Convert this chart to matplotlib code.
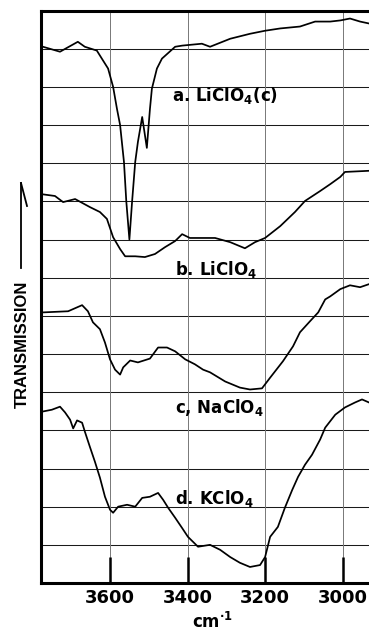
import matplotlib
matplotlib.use("Agg")
import matplotlib.pyplot as plt

# ---- data (wavenumber in cm^-1, transmission in chart-grid units) ----
wn_a = [3778, 3773, 3729, 3683, 3665, 3634, 3618, 3605, 3592, 3582, 3574, 3564, 3558, 3550,
        3543, 3535, 3528, 3517, 3505, 3497, 3492, 3479, 3466, 3432, 3414, 3363, 3342, 3290,
        3239, 3200, 3161, 3110, 3071, 3032, 3006, 2981, 2955, 2932]
tr_a = [14.05, 14.05, 13.92, 14.18, 14.05, 13.95, 13.69, 13.48, 13.0, 12.42, 12.0, 11.03, 10.0, 9.0,
        10.0, 11.03, 11.56, 12.21, 11.4, 12.42, 12.95, 13.48, 13.74, 14.05, 14.08, 14.13, 14.05, 14.26,
        14.39, 14.47, 14.53, 14.58, 14.71, 14.71, 14.74, 14.79, 14.71, 14.66]

wn_b = [3778, 3742, 3721, 3690, 3652, 3626, 3608, 3592, 3574, 3561, 3535, 3510, 3484, 3458,
        3432, 3414, 3394, 3329, 3290, 3252, 3226, 3200, 3161, 3123, 3097, 3058, 3032, 3006,
        2994, 2932]
tr_b = [10.19, 10.14, 9.98, 10.06, 9.85, 9.72, 9.54, 9.06, 8.75, 8.56, 8.56, 8.54, 8.62, 8.80,
        8.96, 9.14, 9.04, 9.04, 8.93, 8.77, 8.93, 9.04, 9.35, 9.72, 10.01, 10.27, 10.45, 10.64,
        10.77, 10.80]

wn_c = [3778, 3773, 3708, 3672, 3657, 3644, 3626, 3613, 3600, 3587, 3574, 3566, 3548, 3528,
        3497, 3476, 3453, 3432, 3406, 3381, 3360, 3342, 3303, 3265, 3239, 3208, 3187, 3154,
        3128, 3110, 3084, 3063, 3045, 3032, 3006, 2981, 2955, 2932]
tr_c = [7.09, 7.09, 7.12, 7.28, 7.12, 6.83, 6.65, 6.30, 5.86, 5.59, 5.46, 5.65, 5.83, 5.78,
        5.88, 6.17, 6.17, 6.07, 5.86, 5.73, 5.59, 5.52, 5.28, 5.12, 5.07, 5.10, 5.38, 5.81,
        6.20, 6.57, 6.86, 7.09, 7.43, 7.51, 7.70, 7.80, 7.75, 7.83]

wn_d = [3778, 3775, 3750, 3729, 3716, 3703, 3695, 3685, 3672, 3665, 3652, 3639, 3626, 3613,
        3600, 3592, 3579, 3556, 3535, 3517, 3497, 3476, 3463, 3450, 3432, 3414, 3399, 3373,
        3342, 3316, 3290, 3265, 3239, 3213, 3200, 3187, 3167, 3149, 3130, 3115, 3097, 3079,
        3058, 3045, 3019, 2994, 2968, 2950, 2932]
tr_d = [4.49, 4.49, 4.54, 4.62, 4.47, 4.28, 4.05, 4.26, 4.20, 3.97, 3.57, 3.18, 2.76, 2.26,
        1.92, 1.84, 2.00, 2.05, 2.00, 2.23, 2.26, 2.36, 2.18, 1.97, 1.71, 1.44, 1.21, 0.95,
        1.00, 0.87, 0.68, 0.53, 0.42, 0.47, 0.68, 1.21, 1.47, 1.97, 2.44, 2.78, 3.10, 3.36,
        3.76, 4.07, 4.41, 4.60, 4.73, 4.81, 4.73]

labels = [r"a. LiClO$_\mathbf{4}$(c)", r"b. LiClO$_\mathbf{4}$",
          r"c, NaClO$_\mathbf{4}$", r"d. KClO$_\mathbf{4}$"]
label_x = [3440, 3432, 3432, 3432]
label_y = [12.77, 8.22, 4.60, 2.21]

xticks = [3600, 3400, 3200, 3000]
xtick_labels = ["3600", "3400", "3200", "3000"]

# ---- figure ----
fig = plt.figure(figsize=(3.69, 6.33), dpi=100)
ax = fig.add_axes([41 / 369, 50 / 633, 1 - 41 / 369, 572.5 / 633])

ax.set_xlim(3778, 2932)
ax.set_ylim(0, 15)

# grid
for yv in range(1, 15):
    ax.axhline(yv, color="#1a1a1a", lw=0.75, zorder=1)
for xv in xticks:
    ax.axvline(xv, color="#777777", lw=0.7, zorder=1)

for wn, tr in [(wn_a, tr_a), (wn_b, tr_b), (wn_c, tr_c), (wn_d, tr_d)]:
    ax.plot(wn, tr, color="black", lw=1.25, zorder=3)

for txt, lx, ly in zip(labels, label_x, label_y):
    ax.text(lx, ly, txt, fontsize=12, fontweight="bold", ha="left", va="center",
            zorder=4)

ax.set_xticks(xticks)
ax.set_xticklabels(xtick_labels, fontsize=13, fontweight="bold")
ax.tick_params(axis="x", direction="in", length=19, width=1.8, pad=4)
ax.set_yticks([])

for side in ["left", "top", "bottom"]:
    ax.spines[side].set_linewidth(2.2)
ax.spines["right"].set_visible(False)

fig.text(213 / 369, 1 - 622 / 633, r"cm$^{\mathbf{\cdot 1}}$", fontsize=12,
         fontweight="bold", ha="center", va="center")

fig.text(22 / 369, 1 - 344 / 633, "TRANSMISSION", rotation=90, fontsize=12,
         fontweight="bold", ha="center", va="center", family="Liberation Sans")

# arrow (half head)
fig.add_artist(plt.Line2D([21 / 369, 21 / 369], [1 - 268 / 633, 1 - 183 / 633],
                          color="black", lw=1.3))
fig.add_artist(plt.Line2D([21 / 369, 27 / 369], [1 - 183 / 633, 1 - 206 / 633],
                          color="black", lw=1.3))

fig.savefig("out.png", dpi=100)
